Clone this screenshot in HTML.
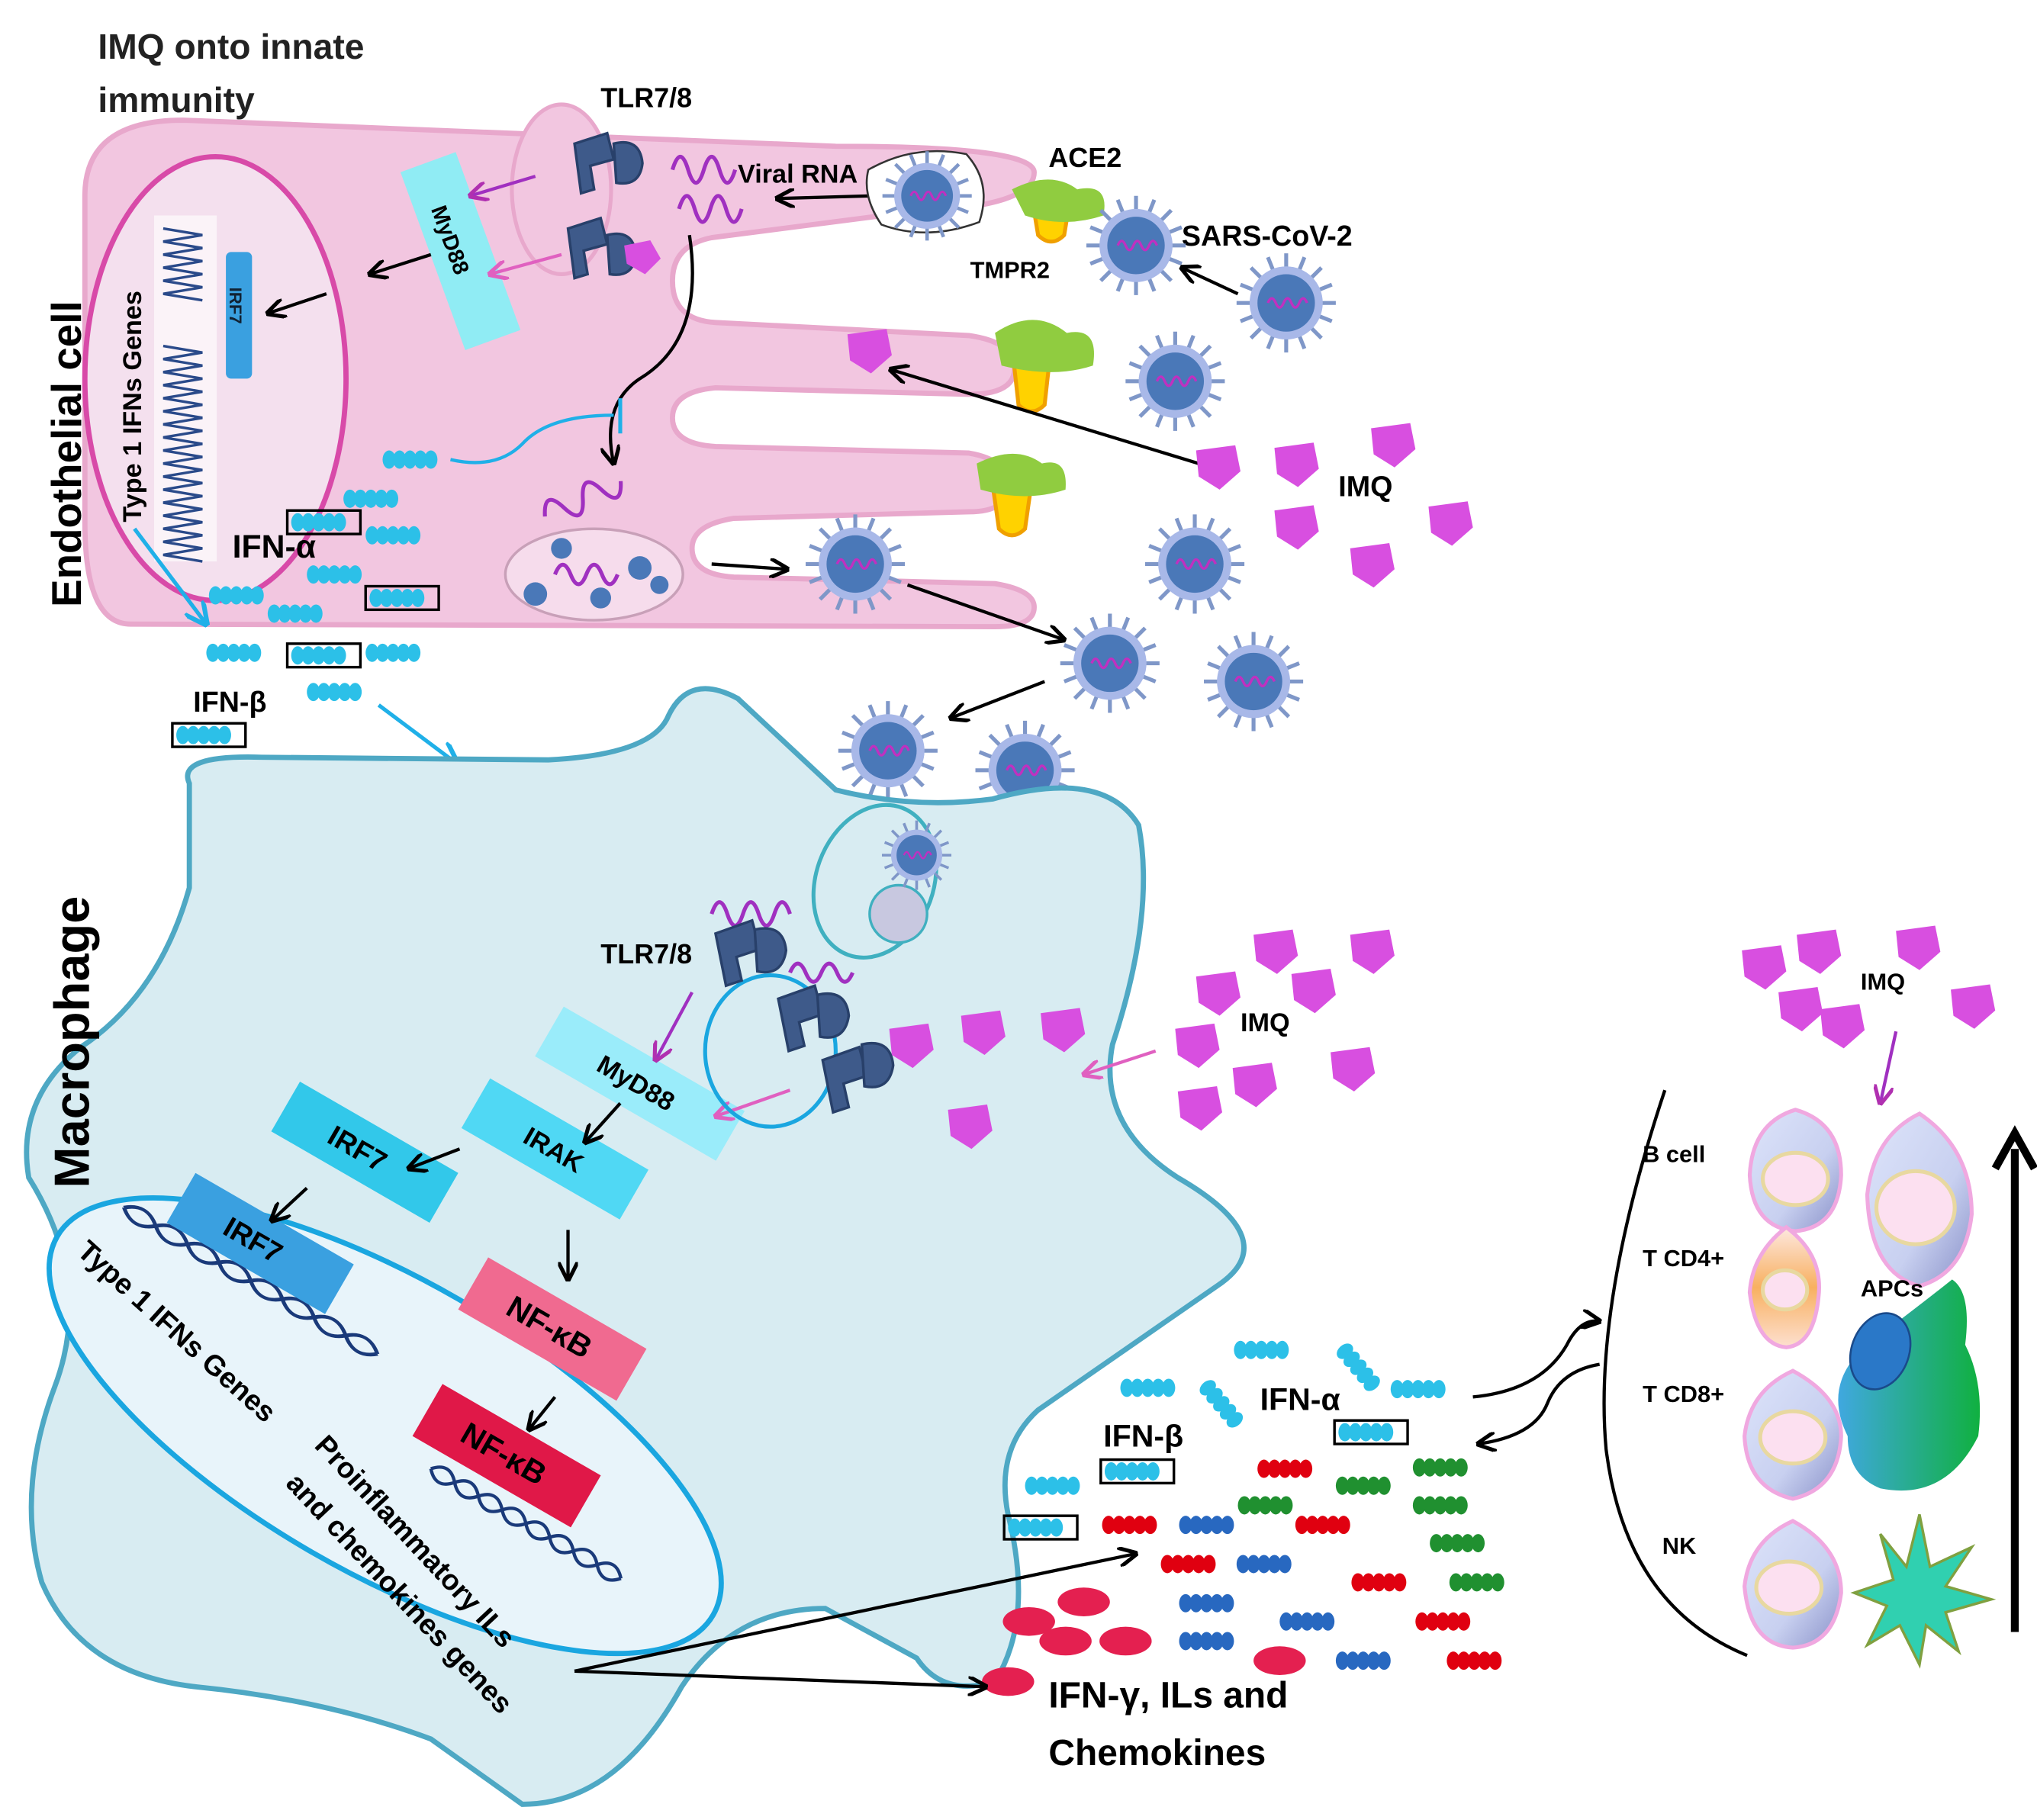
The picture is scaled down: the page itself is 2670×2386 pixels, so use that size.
<!DOCTYPE html>
<html><head><meta charset="utf-8"><style>html,body{margin:0;padding:0;background:#fff}svg{display:block}</style></head>
<body>
<svg width="2670" height="2386" viewBox="0 0 1560 1394" xmlns="http://www.w3.org/2000/svg" font-family="Liberation Sans, sans-serif">
<defs>
<g id="vir">
<g stroke="#7f97c8" stroke-width="3">
<line x1="0" y1="-38" x2="0" y2="38"/><line x1="-38" y1="0" x2="38" y2="0"/>
<line x1="-27" y1="-27" x2="27" y2="27"/><line x1="-27" y1="27" x2="27" y2="-27"/>
<line x1="-14" y1="-35" x2="14" y2="35"/><line x1="-35" y1="-14" x2="35" y2="14"/>
<line x1="-14" y1="35" x2="14" y2="-35"/><line x1="-35" y1="14" x2="35" y2="-14"/>
</g>
<circle r="28" fill="#a8b8e8"/>
<circle r="22" fill="#4a78b8"/>
<path d="M-14 0 q3 -7 6 0 q3 7 6 0 q3 -7 6 0 q3 7 6 0 q3 -7 6 0" stroke="#c030c0" stroke-width="2" fill="none"/>
</g>
<path id="imq" d="M-16 -12 L14 -16 L18 4 L2 18 L-14 8 Z" fill="#d84fe0"/>
<g id="ch"><ellipse cx="0" cy="0" rx="5" ry="7"/><ellipse cx="8" cy="0" rx="5" ry="7"/><ellipse cx="16" cy="0" rx="5" ry="7"/><ellipse cx="24" cy="0" rx="5" ry="7"/><ellipse cx="32" cy="0" rx="5" ry="7"/></g>
<g id="chb"><rect x="-8" y="-9" width="56" height="18" fill="none" stroke="#000" stroke-width="2"/><use href="#ch" fill="#2cc0e8"/></g>
<path id="dna" d="M0 0 q10 -12 20 0 q10 12 20 0 q10 -12 20 0 q10 12 20 0 q10 -12 20 0 q10 12 20 0 q10 -12 20 0 q10 12 20 0 M0 0 q10 12 20 0 q10 -12 20 0 q10 12 20 0 q10 -12 20 0 q10 12 20 0 q10 -12 20 0 q10 12 20 0 q10 -12 20 0" stroke="#1a3a7a" stroke-width="2.5" fill="none"/>
<marker id="ar" viewBox="0 0 10 10" refX="9" refY="5" markerWidth="6" markerHeight="6" orient="auto"><path d="M0 0 L10 5 L0 10" fill="none" stroke="#000" stroke-width="2"/></marker>
<marker id="arb" viewBox="0 0 10 10" refX="9" refY="5" markerWidth="6" markerHeight="6" orient="auto"><path d="M0 0 L10 5 L0 10" fill="none" stroke="#20b0e8" stroke-width="2"/></marker>
<marker id="arp" viewBox="0 0 10 10" refX="9" refY="5" markerWidth="6" markerHeight="6" orient="auto"><path d="M0 0 L10 5 L0 10" fill="none" stroke="#b030b0" stroke-width="2"/></marker>
<marker id="arpk" viewBox="0 0 10 10" refX="9" refY="5" markerWidth="6" markerHeight="6" orient="auto"><path d="M0 0 L10 5 L0 10" fill="none" stroke="#e060c0" stroke-width="2"/></marker>
<linearGradient id="cellg" x1="0" y1="0" x2="1" y2="1"><stop offset="0" stop-color="#dde4fa"/><stop offset="0.6" stop-color="#c8d0f0"/><stop offset="1" stop-color="#8890c8"/></linearGradient>
<linearGradient id="cd4" x1="0" y1="0" x2="0" y2="1"><stop offset="0" stop-color="#fde8e0"/><stop offset="0.5" stop-color="#f8b060"/><stop offset="1" stop-color="#fde0d0"/></linearGradient>
<linearGradient id="apc" x1="0" y1="0" x2="1" y2="0"><stop offset="0" stop-color="#40a8e0"/><stop offset="1" stop-color="#10b040"/></linearGradient>
</defs>

<!-- Endothelial cell -->
<path d="M100 478 Q65 478 65 400 L65 150 Q65 92 140 92 L640 112 Q792 112 792 132 Q792 158 700 162 L545 182 Q515 188 515 215 Q515 245 548 247 L742 257 Q777 262 777 282 Q777 302 742 302 L548 297 Q515 300 515 320 Q515 340 548 342 L742 347 Q772 352 772 372 Q772 392 742 392 L562 397 Q530 402 530 420 Q530 440 562 442 L762 447 Q792 452 792 465 Q792 480 762 480 Z" fill="#f2c6e0" stroke="#e8a8cc" stroke-width="4"/>
<ellipse cx="430" cy="145" rx="38" ry="65" fill="#f2c6e0" stroke="#e8a8cc" stroke-width="3"/>
<ellipse cx="165" cy="290" rx="100" ry="170" fill="#f4e0ee" stroke="#d84aa8" stroke-width="4"/>
<rect x="118" y="165" width="48" height="265" fill="#fff" opacity="0.6"/>
<path d="M125 175 l30 5 l-30 5 l30 5 l-30 5 l30 5 l-30 5 l30 5 l-30 5 l30 5 l-30 5 l30 5 M125 265 l30 5 l-30 5 l30 5 l-30 5 l30 5 l-30 5 l30 5 l-30 5 l30 5 l-30 5 l30 5 l-30 5 l30 5 l-30 5 l30 5 l-30 5 l30 5 l-30 5 l30 5 l-30 5 l30 5 l-30 5 l30 5 l-30 5 l30 5 l-30 5 l30 5 l-30 5 l30 5 l-30 5 l30 5 l-30 5 l30 5" stroke="#2a4a8a" stroke-width="2" fill="none"/>
<rect x="173" y="193" width="20" height="97" rx="4" fill="#3aa0e0"/>
<text x="176" y="220" font-size="13" font-weight="bold" fill="#123" transform="rotate(90 176 220)">IRF7</text>
<text x="108" y="400" font-size="20" font-weight="bold" transform="rotate(-90 108 400)">Type 1 IFNs Genes</text>
<text x="62" y="465" font-size="32" font-weight="bold" transform="rotate(-90 62 465)">Endothelial cell</text>
<text x="75" y="45" font-size="27" font-weight="bold" fill="#222">IMQ onto innate</text>
<text x="75" y="86" font-size="27" font-weight="bold" fill="#222">immunity</text>

<rect x="330" y="120" width="45" height="145" fill="#90ecf4" transform="rotate(-20 352 192)"/>
<text x="330" y="160" font-size="17" font-weight="bold" transform="rotate(70 330 160)">MyD88</text>
<path d="M410 135 L360 150" stroke="#a030c0" stroke-width="2.5" marker-end="url(#arp)"/>
<path d="M430 195 L375 210" stroke="#e060c0" stroke-width="2.5" marker-end="url(#arpk)"/>
<path d="M330 195 L283 210" stroke="#000" stroke-width="2.5" marker-end="url(#ar)"/>
<path d="M250 225 L205 240" stroke="#000" stroke-width="2.5" marker-end="url(#ar)"/>
<g fill="#3e5a8a" stroke="#28406a" stroke-width="2">
<path d="M440 110 l25 -8 l5 20 l-18 5 l3 18 l-10 3 z"/><path d="M470 110 q20 -5 22 15 q-2 18 -20 15 z"/>
<path d="M435 175 l25 -8 l5 20 l-18 5 l3 18 l-10 3 z"/><path d="M465 180 q20 -5 22 15 q-2 18 -20 15 z"/>
</g>
<path d="M478 188 l20 -4 l8 14 l-12 12 l-14 -8 z" fill="#d84fe0"/>
<text x="460" y="82" font-size="21" font-weight="bold">TLR7/8</text>
<path d="M515 130 q6 -20 12 0 q6 20 12 0 q6 -20 12 0 q6 20 12 0" stroke="#a030c0" stroke-width="3" fill="none"/>
<path d="M520 160 q6 -20 12 0 q6 20 12 0 q6 -20 12 0 q6 20 12 0" stroke="#a030c0" stroke-width="3" fill="none"/>
<text x="565" y="140" font-size="20" font-weight="bold">Viral RNA</text>
<path d="M668 150 L595 152" stroke="#000" stroke-width="2.5" marker-end="url(#ar)"/>
<path d="M665 130 Q700 110 740 118 Q760 140 750 170 Q710 185 675 172 Q660 150 665 130 Z" fill="#fff" stroke="#333" stroke-width="1.5"/>
<use href="#vir" transform="translate(710 150) scale(0.9)"/>
<path d="M528 180 Q540 260 490 290 Q460 310 470 355" stroke="#000" stroke-width="2.5" fill="none" marker-end="url(#ar)"/>
<path d="M415 385 q8 -20 16 0 q8 20 16 0 q8 -20 16 0 q8 20 16 0" stroke="#a030c0" stroke-width="3" fill="none" transform="rotate(-25 440 385)"/>
<path d="M345 352 Q380 360 400 340 Q420 318 470 318" stroke="#20b0e8" stroke-width="2.5" fill="none"/>
<line x1="475" y1="305" x2="475" y2="332" stroke="#20b0e8" stroke-width="3"/>
<ellipse cx="455" cy="440" rx="68" ry="35" fill="#f6dcec" stroke="#c8a0b8" stroke-width="2"/>
<g fill="#4a78b8"><circle cx="410" cy="455" r="9"/><circle cx="430" cy="420" r="8"/><circle cx="460" cy="458" r="8"/><circle cx="490" cy="435" r="9"/><circle cx="505" cy="448" r="7"/></g>
<path d="M425 440 q6 -15 12 0 q6 15 12 0 q6 -15 12 0 q6 15 12 0" stroke="#a030c0" stroke-width="3" fill="none"/>
<path d="M545 432 L603 436" stroke="#000" stroke-width="2.5" marker-end="url(#ar)"/>
<g>
<path d="M790 150 q15 -12 30 0 l-5 30 q-10 10 -20 0 z" fill="#ffd200" stroke="#f0a000" stroke-width="3"/>
<path d="M775 145 q30 -15 50 0 q25 -5 20 20 q-30 10 -60 0 z" fill="#90cc40"/>
<path d="M775 265 q15 -12 30 0 l-5 45 q-10 10 -20 0 z" fill="#ffd200" stroke="#f0a000" stroke-width="3"/>
<path d="M762 255 q30 -20 55 0 q25 -5 20 25 q-30 10 -70 0 z" fill="#90cc40"/>
<path d="M760 370 q15 -12 30 0 l-5 35 q-10 10 -20 0 z" fill="#ffd200" stroke="#f0a000" stroke-width="3"/>
<path d="M748 355 q30 -15 50 0 q20 -5 18 20 q-30 10 -65 0 z" fill="#90cc40"/>
</g>
<text x="803" y="128" font-size="21" font-weight="bold">ACE2</text>
<text x="743" y="213" font-size="18" font-weight="bold">TMPR2</text>
<text x="905" y="188" font-size="22" font-weight="bold">SARS-CoV-2</text>
<use href="#vir" transform="translate(870 188)"/>
<use href="#vir" transform="translate(985 232)"/>
<use href="#vir" transform="translate(900 292)"/>
<use href="#vir" transform="translate(915 432)"/>
<use href="#vir" transform="translate(655 432)"/>
<use href="#vir" transform="translate(850 508)"/>
<use href="#vir" transform="translate(960 522)"/>
<use href="#vir" transform="translate(680 575)"/>
<use href="#vir" transform="translate(785 590)"/>
<path d="M948 225 L905 205" stroke="#000" stroke-width="2.5" marker-end="url(#ar)"/>
<path d="M918 355 L682 283" stroke="#000" stroke-width="2.5" marker-end="url(#ar)"/>
<path d="M695 448 L815 490" stroke="#000" stroke-width="2.5" marker-end="url(#ar)"/>
<path d="M800 522 L728 550" stroke="#000" stroke-width="2.5" marker-end="url(#ar)"/>
<use href="#imq" transform="translate(665 268)"/>
<use href="#imq" transform="translate(932 357)"/><use href="#imq" transform="translate(992 355)"/><use href="#imq" transform="translate(1066 340)"/>
<use href="#imq" transform="translate(992 403)"/><use href="#imq" transform="translate(1050 432)"/><use href="#imq" transform="translate(1110 400)"/>
<text x="1025" y="380" font-size="22" font-weight="bold">IMQ</text>
<use href="#ch" fill="#2cc0e8" transform="translate(298 352)"/>
<use href="#ch" fill="#2cc0e8" transform="translate(268 382)"/>
<use href="#chb" transform="translate(228 400)"/>
<use href="#ch" fill="#2cc0e8" transform="translate(285 410)"/>
<use href="#ch" fill="#2cc0e8" transform="translate(240 440)"/>
<use href="#chb" transform="translate(288 458)"/>
<use href="#ch" fill="#2cc0e8" transform="translate(165 456)"/>
<use href="#ch" fill="#2cc0e8" transform="translate(210 470)"/>
<use href="#ch" fill="#2cc0e8" transform="translate(163 500)"/>
<use href="#chb" transform="translate(228 502)"/>
<use href="#ch" fill="#2cc0e8" transform="translate(285 500)"/>
<use href="#ch" fill="#2cc0e8" transform="translate(240 530)"/>
<use href="#chb" transform="translate(140 563)"/>
<text x="178" y="427" font-size="25" font-weight="bold">IFN-α</text>
<text x="148" y="545" font-size="22" font-weight="bold">IFN-β</text>
<path d="M103 405 L158 478" stroke="#20b0e8" stroke-width="3" marker-end="url(#arb)"/>
<path d="M290 540 L350 585" stroke="#20b0e8" stroke-width="3" marker-end="url(#arb)"/>

<!-- Macrophage -->
<path d="M145 600 Q135 578 200 580 L420 582 Q500 578 512 548 Q528 515 565 535 L640 605 Q700 620 760 612 Q845 588 872 632 Q885 700 852 800 Q840 862 902 902 Q985 950 932 985 L795 1080 Q762 1110 772 1160 Q792 1240 762 1288 Q722 1300 702 1270 L632 1232 Q562 1232 522 1292 Q472 1382 400 1382 L330 1332 Q250 1302 150 1292 Q62 1282 32 1212 Q12 1142 42 1062 Q72 982 22 902 Q12 842 62 802 Q122 762 145 680 Z" fill="#d8ecf2" stroke="#4ea8c4" stroke-width="4"/>
<text x="68" y="910" font-size="38" font-weight="bold" transform="rotate(-90 68 910)">Macrophage</text>
<ellipse cx="295" cy="1092" rx="290" ry="112" fill="#e8f4fa" stroke="#1aa6e0" stroke-width="4" transform="rotate(30 295 1092)"/>
<use href="#dna" transform="translate(95 925) rotate(30) scale(1.4 1)"/>
<use href="#dna" transform="translate(330 1125) rotate(30) scale(1.05 1)"/>
<text x="58" y="960" font-size="22" font-weight="bold" transform="rotate(42 58 960)">Type 1 IFNs Genes</text>
<text x="240" y="1108" font-size="22" font-weight="bold" transform="rotate(47 240 1108)">Proinflammatory ILs</text>
<text x="218" y="1137" font-size="22" font-weight="bold" transform="rotate(47 218 1137)">and chemokines genes</text>
<g transform="rotate(30 195 950)"><rect x="130" y="928" width="140" height="44" fill="#3aa0e0"/><text x="170" y="958" font-size="22" font-weight="bold">IRF7</text></g>
<g transform="rotate(30 275 880)"><rect x="210" y="858" width="140" height="44" fill="#32c8ea"/><text x="250" y="888" font-size="22" font-weight="bold">IRF7</text></g>
<g transform="rotate(30 425 880)"><rect x="355" y="858" width="140" height="44" fill="#50d8f4"/><text x="400" y="888" font-size="20" font-weight="bold">IRAK</text></g>
<g transform="rotate(30 490 830)"><rect x="410" y="808" width="160" height="44" fill="#9aecfa"/><text x="455" y="838" font-size="20" font-weight="bold">MyD88</text></g>
<g transform="rotate(30 423 1018)"><rect x="353" y="995" width="140" height="46" fill="#f06a90"/><text x="385" y="1026" font-size="24" font-weight="bold">NF-κB</text></g>
<g transform="rotate(30 388 1115)"><rect x="318" y="1092" width="140" height="46" fill="#e01848"/><text x="350" y="1123" font-size="24" font-weight="bold">NF-κB</text></g>
<path d="M352 880 L313 895" stroke="#000" stroke-width="2.5" marker-end="url(#ar)"/>
<path d="M235 910 L208 935" stroke="#000" stroke-width="2.5" marker-end="url(#ar)"/>
<path d="M475 845 L448 875" stroke="#000" stroke-width="2.5" marker-end="url(#ar)"/>
<path d="M435 942 L435 980" stroke="#000" stroke-width="2.5" marker-end="url(#ar)"/>
<path d="M425 1070 L405 1095" stroke="#000" stroke-width="2.5" marker-end="url(#ar)"/>
<path d="M530 760 L502 812" stroke="#a030c0" stroke-width="2.5" marker-end="url(#arp)"/>
<path d="M605 835 L548 855" stroke="#e060c0" stroke-width="2.5" marker-end="url(#arpk)"/>
<ellipse cx="670" cy="675" rx="45" ry="60" fill="#d8ecf2" stroke="#40b0c0" stroke-width="3" transform="rotate(20 670 675)"/>
<circle cx="688" cy="700" r="22" fill="#c8c8e0" stroke="#40b0c0" stroke-width="2"/>
<use href="#vir" transform="translate(702 655) scale(0.7)"/>
<ellipse cx="590" cy="805" rx="50" ry="58" fill="none" stroke="#1aa6e0" stroke-width="3"/>
<path d="M545 700 q6 -18 12 0 q6 18 12 0 q6 -18 12 0 q6 18 12 0 q6 -18 12 0" stroke="#a030c0" stroke-width="3" fill="none"/>
<path d="M605 745 q6 -14 12 0 q6 14 12 0 q6 -14 12 0 q6 14 12 0" stroke="#a030c0" stroke-width="3" fill="none"/>
<g fill="#3e5a8a" stroke="#28406a" stroke-width="2">
<path d="M548 715 l28 -10 l6 22 l-18 6 l4 18 l-12 4 z"/><path d="M578 712 q22 -5 24 16 q-3 20 -22 16 z"/>
<path d="M596 765 l28 -10 l6 22 l-18 6 l4 18 l-12 4 z"/><path d="M626 762 q22 -5 24 16 q-3 20 -22 16 z"/>
<path d="M630 812 l28 -10 l6 22 l-18 6 l4 18 l-12 4 z"/><path d="M660 800 q22 -5 24 16 q-3 20 -22 16 z"/>
</g>
<text x="460" y="738" font-size="21" font-weight="bold">TLR7/8</text>
<use href="#imq" transform="translate(697 800)"/><use href="#imq" transform="translate(752 790)"/><use href="#imq" transform="translate(813 788)"/>
<use href="#imq" transform="translate(976 728)"/><use href="#imq" transform="translate(1050 728)"/><use href="#imq" transform="translate(932 760)"/><use href="#imq" transform="translate(1005 758)"/>
<use href="#imq" transform="translate(916 800)"/><use href="#imq" transform="translate(960 830)"/><use href="#imq" transform="translate(1035 818)"/><use href="#imq" transform="translate(918 848)"/><use href="#imq" transform="translate(742 862)"/>
<text x="950" y="790" font-size="20" font-weight="bold">IMQ</text>
<path d="M885 805 L830 823" stroke="#e060c0" stroke-width="2.5" marker-end="url(#arpk)"/>

<use href="#ch" fill="#2cc0e8" transform="translate(950 1034)"/>
<use href="#ch" fill="#2cc0e8" transform="translate(863 1063)"/>
<use href="#ch" fill="#2cc0e8" transform="translate(1070 1064)"/>
<use href="#ch" fill="#2cc0e8" transform="translate(1030 1035) rotate(50)"/>
<use href="#ch" fill="#2cc0e8" transform="translate(925 1063) rotate(50)"/>
<use href="#chb" transform="translate(1030 1097)"/>
<use href="#chb" transform="translate(851 1127)"/>
<use href="#ch" fill="#2cc0e8" transform="translate(790 1138)"/>
<use href="#chb" transform="translate(777 1170)"/>
<text x="965" y="1080" font-size="24" font-weight="bold">IFN-α</text>
<text x="845" y="1108" font-size="24" font-weight="bold">IFN-β</text>
<g fill="#e00010">
<use href="#ch" transform="translate(968 1125)"/><use href="#ch" transform="translate(849 1168)"/><use href="#ch" transform="translate(997 1168)"/>
<use href="#ch" transform="translate(894 1198)"/><use href="#ch" transform="translate(1040 1212)"/><use href="#ch" transform="translate(1089 1242)"/><use href="#ch" transform="translate(1113 1272)"/>
</g>
<g fill="#209030"><use href="#ch" transform="translate(1087 1124)"/><use href="#ch" transform="translate(1028 1138)"/><use href="#ch" transform="translate(953 1153)"/><use href="#ch" transform="translate(1087 1153)"/><use href="#ch" transform="translate(1100 1182)"/><use href="#ch" transform="translate(1115 1212)"/></g>
<g fill="#2868c0"><use href="#ch" transform="translate(908 1168)"/><use href="#ch" transform="translate(952 1198)"/><use href="#ch" transform="translate(908 1228)"/><use href="#ch" transform="translate(985 1242)"/><use href="#ch" transform="translate(908 1257)"/><use href="#ch" transform="translate(1028 1272)"/></g>
<g fill="#e42050"><ellipse cx="830" cy="1227" rx="20" ry="11"/><ellipse cx="788" cy="1242" rx="20" ry="11"/><ellipse cx="816" cy="1257" rx="20" ry="11"/><ellipse cx="862" cy="1257" rx="20" ry="11"/><ellipse cx="980" cy="1272" rx="20" ry="11"/><ellipse cx="772" cy="1288" rx="20" ry="11"/></g>
<text x="803" y="1308" font-size="28" font-weight="bold">IFN-γ, ILs and</text>
<text x="803" y="1352" font-size="28" font-weight="bold">Chemokines</text>
<path d="M440 1280 L870 1190" stroke="#000" stroke-width="2.5" marker-end="url(#ar)"/>
<path d="M440 1280 L755 1292" stroke="#000" stroke-width="2.5" marker-end="url(#ar)"/>
<path d="M1128 1070 Q1180 1065 1200 1030 Q1210 1010 1225 1012" stroke="#000" stroke-width="2.5" fill="none" marker-end="url(#ar)"/>
<path d="M1225 1045 Q1195 1050 1185 1075 Q1175 1100 1132 1106" stroke="#000" stroke-width="2.5" fill="none" marker-end="url(#ar)"/>

<path d="M1275 835 Q1220 1000 1230 1110 Q1245 1230 1338 1268" stroke="#000" stroke-width="2.5" fill="none"/>
<g font-size="18" font-weight="bold"><text x="1258" y="890">B cell</text><text x="1258" y="970">T CD4+</text><text x="1258" y="1074">T CD8+</text><text x="1273" y="1190">NK</text></g>
<g stroke="#f0a8e0" stroke-width="3">
<path d="M1375 850 Q1410 860 1410 900 Q1408 940 1375 943 Q1342 940 1340 900 Q1342 860 1375 850Z" fill="url(#cellg)"/>
<path d="M1470 853 Q1510 880 1510 930 Q1505 975 1470 985 Q1432 975 1430 915 Q1435 870 1470 853Z" fill="url(#cellg)"/>
<path d="M1368 940 Q1395 960 1393 990 Q1390 1030 1368 1032 Q1345 1030 1340 990 Q1342 960 1368 940Z" fill="url(#cd4)"/>
<path d="M1373 1050 Q1410 1070 1410 1100 Q1408 1140 1373 1148 Q1338 1140 1336 1100 Q1340 1065 1373 1050Z" fill="url(#cellg)"/>
<path d="M1373 1165 Q1410 1185 1410 1220 Q1405 1260 1373 1262 Q1340 1260 1336 1215 Q1340 1180 1373 1165Z" fill="url(#cellg)"/>
</g>
<g fill="#fce0f0" stroke="#e8d8a0" stroke-width="3">
<ellipse cx="1375" cy="903" rx="25" ry="20"/><ellipse cx="1467" cy="925" rx="30" ry="28"/><ellipse cx="1367" cy="988" rx="17" ry="15"/><ellipse cx="1373" cy="1101" rx="25" ry="20"/><ellipse cx="1370" cy="1216" rx="25" ry="20"/>
</g>
<path d="M1495 980 Q1510 990 1505 1030 Q1520 1060 1515 1100 Q1490 1150 1440 1140 Q1415 1130 1415 1100 Q1395 1060 1430 1030 Q1470 1000 1495 980Z" fill="url(#apc)"/>
<ellipse cx="1440" cy="1035" rx="22" ry="30" fill="#2a78c8" stroke="#1a4a8a" stroke-width="1.5" transform="rotate(20 1440 1035)"/>
<text x="1425" y="993" font-size="18" font-weight="bold">APCs</text>
<path d="M1470 1160 L1478 1200 L1510 1185 L1490 1215 L1525 1225 L1490 1235 L1500 1265 L1475 1245 L1470 1275 L1455 1245 L1430 1260 L1445 1230 L1420 1220 L1450 1210 L1440 1175 L1460 1200 Z" fill="#30d0b0" stroke="#80a040" stroke-width="2"/>
<line x1="1543" y1="1250" x2="1543" y2="880" stroke="#000" stroke-width="6"/>
<path d="M1528 895 L1543 868 L1558 895" fill="none" stroke="#000" stroke-width="6"/>
<use href="#imq" transform="translate(1350 740)"/><use href="#imq" transform="translate(1392 728)"/><use href="#imq" transform="translate(1468 725)"/><use href="#imq" transform="translate(1378 772)"/><use href="#imq" transform="translate(1410 785)"/><use href="#imq" transform="translate(1510 770)"/>
<text x="1425" y="758" font-size="18" font-weight="bold">IMQ</text>
<path d="M1452 790 L1440 845" stroke="#a030c0" stroke-width="2.5" marker-end="url(#arp)"/>
</svg>
</body></html>
